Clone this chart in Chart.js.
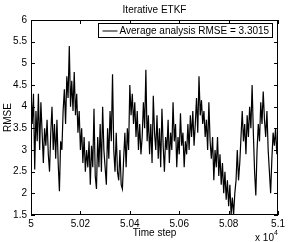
<!DOCTYPE html>
<html>
<head>
<meta charset="utf-8">
<script src="https://cdn.jsdelivr.net/npm/chart.js@4/dist/chart.umd.min.js"></script>
<style>
  html, body { margin: 0; padding: 0; background: #fff; }
  #wrap { width: 288px; height: 242px; }
</style>
</head>
<body>
<div id="wrap"><canvas id="rmse-chart" width="288" height="242"></canvas></div>
<script>
// time steps 50000 .. 51000, one value every 5 steps
const firstStep = 50000;
const stepEvery = 5;

const rmse = [
    4.4, 3.6, 4.3, 2.55, 3.9, 3.2, 4.3, 3.0, 4.1, 3.4,
    2.7, 3.5, 3.1, 3.7, 2.9, 2.5, 3.4, 4.0, 3.0, 3.6,
    2.8, 3.7, 2.7, 2.05, 3.2, 3.0, 3.9, 4.4, 3.6, 4.7,
    4.2, 5.4, 4.0, 4.6, 3.9, 4.8, 3.8, 4.3, 3.4, 3.9,
    3.0, 3.5, 2.7, 3.3, 2.5, 3.0, 2.6, 3.2, 2.2, 3.1,
    2.6, 3.95, 2.4, 2.1, 3.3, 2.6, 3.6, 2.5, 4.0, 3.0,
    2.6, 2.2, 3.5, 2.8, 3.9, 3.2, 4.75, 3.0, 2.5, 3.4,
    2.5, 2.3, 3.0, 2.2, 2.1, 2.8, 3.4, 2.6, 3.5, 3.0,
    4.5, 3.8, 4.3, 3.6, 4.1, 3.3, 3.9, 3.0, 3.6, 2.9,
    3.3, 4.1, 3.5, 4.85, 3.2, 3.8, 2.9, 3.6, 2.7, 4.25,
    3.4, 3.0, 3.8, 2.8, 3.5, 2.6, 3.95, 3.1, 2.5, 3.3,
    3.0, 3.7, 2.7, 3.4, 3.0, 4.1, 3.2, 3.6, 2.6, 3.3,
    2.9, 3.85, 3.1, 3.4, 2.6, 3.2, 2.9, 3.6, 3.0, 3.8,
    3.3, 3.9, 3.1, 3.6, 4.2, 3.4, 4.7, 3.8, 4.15, 3.6,
    3.9, 3.3, 3.7, 3.0, 4.1, 3.2, 2.8, 3.3, 2.3, 3.0,
    2.6, 3.3, 2.4, 2.9, 2.2, 2.7, 2.0, 2.5, 1.85, 2.3,
    1.7, 2.2, 1.5, 1.9, 1.5, 2.0, 2.3, 3.0, 2.3, 2.7,
    3.3, 3.9, 3.2, 3.6, 2.9, 3.8, 3.3, 4.0, 3.5, 4.5,
    3.4, 2.5, 1.95, 3.0, 3.6, 3.2, 4.1, 3.6, 4.35, 3.7,
    3.3, 3.9, 3.0, 2.5, 2.0, 2.8, 3.4, 3.1, 3.5, 2.9,
    3.4
];

const chartTitle = 'Iterative ETKF';
const legendText = 'Average analysis RMSE = 3.3015';
const xTitle = 'Time step';
const yTitle = 'RMSE';
const xExponent = '4';

const xMin = 50000, xMax = 51000, xStep = 200;
const yMin = 1.5, yMax = 6, yStep = 0.5;

Chart.defaults.font.family = '"Liberation Sans", Arial, Helvetica, sans-serif';
Chart.defaults.font.size = 10;
Chart.defaults.color = '#000';

// matlab style: box, inward ticks, legend inside, title over the axes
const matlabAxes = {
    id: 'matlabAxes',
    afterDraw(chart) {
        const ctx = chart.ctx;
        const a = chart.chartArea;
        const xs = chart.scales.x;
        const ys = chart.scales.y;
        const tl = 4;
        ctx.save();
        ctx.strokeStyle = '#000';
        ctx.lineWidth = 1;
        ctx.strokeRect(Math.round(a.left) + 0.5, Math.round(a.top) + 0.5,
            Math.round(a.right - a.left) - 1, Math.round(a.bottom - a.top) - 1);

        ctx.beginPath();
        xs.ticks.forEach(t => {
            const px = Math.round(xs.getPixelForValue(t.value)) + 0.5;
            ctx.moveTo(px, a.bottom); ctx.lineTo(px, a.bottom - tl);
            ctx.moveTo(px, a.top); ctx.lineTo(px, a.top + tl);
        });
        ys.ticks.forEach(t => {
            const py = Math.round(ys.getPixelForValue(t.value)) + 0.5;
            ctx.moveTo(a.left, py); ctx.lineTo(a.left + tl, py);
            ctx.moveTo(a.right, py); ctx.lineTo(a.right - tl, py);
        });
        ctx.stroke();

        // title
        ctx.fillStyle = '#000';
        ctx.font = '10px "Liberation Sans", Arial, sans-serif';
        ctx.textAlign = 'center';
        ctx.textBaseline = 'middle';
        ctx.fillText(chartTitle, (a.left + a.right) / 2, 10);

        // x 10^4
        ctx.textAlign = 'left';
        ctx.textBaseline = 'alphabetic';
        ctx.fillText('x 10', a.right - 23, 241);
        ctx.font = '7px "Liberation Sans", Arial, sans-serif';
        ctx.fillText(xExponent, a.right - 4, 235);

        // legend
        ctx.font = '10px "Liberation Sans", Arial, sans-serif';
        const tw = ctx.measureText(legendText).width;
        const bw = Math.round(tw + 24);
        const bx = Math.round(a.right - 6 - bw) + 0.5;
        const by = Math.round(a.top + 3) + 0.5;
        ctx.fillStyle = '#fff';
        ctx.fillRect(bx, by, bw, 14);
        ctx.strokeRect(bx, by, bw, 14);
        ctx.beginPath();
        ctx.moveTo(bx + 4, by + 7.5);
        ctx.lineTo(bx + 19, by + 7.5);
        ctx.stroke();
        ctx.fillStyle = '#000';
        ctx.textBaseline = 'middle';
        ctx.fillText(legendText, bx + 21, by + 7.5);
        ctx.restore();
    }
};

const ctx = document.getElementById('rmse-chart');
new Chart(ctx, {
    type: 'line',
    data: {
        datasets: [{
            label: legendText,
            data: rmse.map((v, i) => ({ x: firstStep + i * stepEvery, y: v })),
            borderColor: '#000',
            borderWidth: 1.2,
            pointRadius: 0,
            tension: 0,
            fill: false
        }]
    },
    options: {
        responsive: false,
        animation: false,
        layout: { padding: { top: 20, right: 8, left: 0, bottom: 0 } },
        plugins: {
            legend: { display: false },
            title: { display: false },
            tooltip: { enabled: false }
        },
        scales: {
            x: {
                type: 'linear',
                min: xMin,
                max: xMax,
                grid: { display: false, drawTicks: false },
                border: { display: false },
                ticks: {
                    stepSize: xStep,
                    padding: 3,
                    maxRotation: 0,
                    callback: v => parseFloat((v / 10000).toFixed(2))
                },
                title: { display: true, text: xTitle, padding: { top: 0, bottom: 3 } },
                afterFit: s => { s.height = 27; }
            },
            y: {
                min: yMin,
                max: yMax,
                grid: { display: false, drawTicks: false },
                border: { display: false },
                ticks: {
                    stepSize: yStep,
                    padding: 4,
                    callback: v => String(parseFloat(v.toFixed(1)))
                },
                title: { display: true, text: yTitle, padding: { top: 2, bottom: 0 } },
                afterFit: s => { s.width = 31; }
            }
        }
    },
    plugins: [matlabAxes]
});
</script>
</body>
</html>
